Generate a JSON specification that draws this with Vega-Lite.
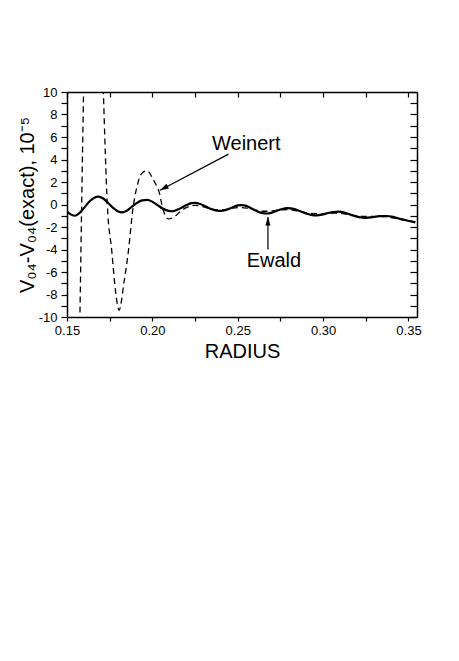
{
  "$schema": "https://vega.github.io/schema/vega-lite/v6.json",
  "autosize": "none",
  "width": 350,
  "height": 225,
  "padding": {"left": 67, "top": 92, "right": 42, "bottom": 344},
  "background": "white",
  "config": {
    "font": "Liberation Sans",
    "view": {"stroke": null},
    "axis": {
      "grid": false,
      "domainColor": "black",
      "domainWidth": 1.5,
      "tickColor": "black",
      "tickWidth": 1.2,
      "labelColor": "black",
      "labelFont": "Liberation Sans",
      "labelFontSize": 13,
      "titleColor": "black",
      "titleFont": "Liberation Sans",
      "titleFontSize": 20,
      "titleFontWeight": "normal",
      "labelOverlap": false,
      "labelFlush": false
    }
  },
  "datasets": {
    "weinert": [
      {"x": 0.1576, "y": -9.6}, {"x": 0.1586, "y": 0}, {"x": 0.1597, "y": 10}, {"x": 0.1610, "y": 20},
      {"x": 0.1650, "y": 35}, {"x": 0.1690, "y": 22}, {"x": 0.1713, "y": 10}, {"x": 0.1736, "y": 0},
      {"x": 0.1762, "y": -4.1}, {"x": 0.1785, "y": -7.8}, {"x": 0.1805, "y": -9.4}, {"x": 0.1835, "y": -6.8},
      {"x": 0.1860, "y": -4.1}, {"x": 0.1885, "y": -0.5}, {"x": 0.1910, "y": 1.6}, {"x": 0.1940, "y": 2.8},
      {"x": 0.1970, "y": 3.0}, {"x": 0.1995, "y": 2.5}, {"x": 0.2020, "y": 1.8}, {"x": 0.2040, "y": 1.1},
      {"x": 0.2060, "y": -0.3}, {"x": 0.2080, "y": -1.1}, {"x": 0.2095, "y": -1.28}, {"x": 0.2115, "y": -1.2},
      {"x": 0.2140, "y": -0.95}, {"x": 0.2165, "y": -0.6}, {"x": 0.2190, "y": -0.35}, {"x": 0.2220, "y": -0.15},
      {"x": 0.2250, "y": -0.08}, {"x": 0.2280, "y": -0.12}, {"x": 0.2310, "y": -0.25}, {"x": 0.2340, "y": -0.38},
      {"x": 0.2370, "y": -0.45}, {"x": 0.2405, "y": -0.47}, {"x": 0.2440, "y": -0.42}, {"x": 0.2470, "y": -0.33},
      {"x": 0.2500, "y": -0.28}, {"x": 0.2525, "y": -0.28}, {"x": 0.2560, "y": -0.35}, {"x": 0.2600, "y": -0.48},
      {"x": 0.2640, "y": -0.58}, {"x": 0.2670, "y": -0.60}, {"x": 0.2710, "y": -0.55}, {"x": 0.2750, "y": -0.47},
      {"x": 0.2790, "y": -0.45}, {"x": 0.2830, "y": -0.52}, {"x": 0.2870, "y": -0.65}, {"x": 0.2920, "y": -0.78},
      {"x": 0.2965, "y": -0.82}, {"x": 0.3010, "y": -0.80}, {"x": 0.3050, "y": -0.76}, {"x": 0.3090, "y": -0.77},
      {"x": 0.3130, "y": -0.85}, {"x": 0.3180, "y": -0.96}, {"x": 0.3230, "y": -1.05}, {"x": 0.3270, "y": -1.07},
      {"x": 0.3310, "y": -1.06}, {"x": 0.3350, "y": -1.07}, {"x": 0.3390, "y": -1.14}, {"x": 0.3440, "y": -1.27},
      {"x": 0.3490, "y": -1.40}, {"x": 0.3540, "y": -1.55}
    ],
    "ewald": [
      {"x": 0.1500, "y": -0.62}, {"x": 0.1525, "y": -0.90}, {"x": 0.1547, "y": -1.00}, {"x": 0.1570, "y": -0.80},
      {"x": 0.1600, "y": -0.30}, {"x": 0.1630, "y": 0.25}, {"x": 0.1660, "y": 0.60}, {"x": 0.1684, "y": 0.70},
      {"x": 0.1710, "y": 0.55}, {"x": 0.1740, "y": 0.15}, {"x": 0.1770, "y": -0.30}, {"x": 0.1800, "y": -0.62},
      {"x": 0.1823, "y": -0.70}, {"x": 0.1850, "y": -0.55}, {"x": 0.1880, "y": -0.20}, {"x": 0.1910, "y": 0.15},
      {"x": 0.1940, "y": 0.37}, {"x": 0.1970, "y": 0.42}, {"x": 0.2000, "y": 0.25}, {"x": 0.2030, "y": -0.05},
      {"x": 0.2060, "y": -0.35}, {"x": 0.2090, "y": -0.55}, {"x": 0.2115, "y": -0.60}, {"x": 0.2140, "y": -0.50},
      {"x": 0.2170, "y": -0.30}, {"x": 0.2200, "y": -0.05}, {"x": 0.2230, "y": 0.12}, {"x": 0.2250, "y": 0.14},
      {"x": 0.2280, "y": 0.05}, {"x": 0.2310, "y": -0.15}, {"x": 0.2340, "y": -0.38}, {"x": 0.2370, "y": -0.52},
      {"x": 0.2405, "y": -0.57}, {"x": 0.2440, "y": -0.45}, {"x": 0.2470, "y": -0.25}, {"x": 0.2500, "y": -0.08},
      {"x": 0.2525, "y": -0.05}, {"x": 0.2550, "y": -0.12}, {"x": 0.2580, "y": -0.35}, {"x": 0.2610, "y": -0.58},
      {"x": 0.2640, "y": -0.75}, {"x": 0.2670, "y": -0.80}, {"x": 0.2700, "y": -0.72}, {"x": 0.2730, "y": -0.55},
      {"x": 0.2760, "y": -0.40}, {"x": 0.2790, "y": -0.33}, {"x": 0.2810, "y": -0.34}, {"x": 0.2840, "y": -0.45},
      {"x": 0.2870, "y": -0.62}, {"x": 0.2900, "y": -0.80}, {"x": 0.2930, "y": -0.92}, {"x": 0.2965, "y": -0.97},
      {"x": 0.3000, "y": -0.88}, {"x": 0.3030, "y": -0.76}, {"x": 0.3060, "y": -0.67}, {"x": 0.3090, "y": -0.64},
      {"x": 0.3120, "y": -0.70}, {"x": 0.3150, "y": -0.85}, {"x": 0.3180, "y": -1.00}, {"x": 0.3210, "y": -1.12},
      {"x": 0.3250, "y": -1.18}, {"x": 0.3290, "y": -1.12}, {"x": 0.3330, "y": -1.04}, {"x": 0.3370, "y": -1.02},
      {"x": 0.3410, "y": -1.10}, {"x": 0.3450, "y": -1.28}, {"x": 0.3490, "y": -1.42}, {"x": 0.3540, "y": -1.60}
    ],
    "arrows": [
      {"name": "Weinert", "x": 0.2446, "y": 4.48, "x2": 0.2045, "y2": 1.27},
      {"name": "Ewald", "x": 0.2677, "y": -4.0, "x2": 0.2677, "y2": -1.1}
    ],
    "labels": [
      {"text": "Weinert", "x": 0.255, "y": 4.83},
      {"text": "Ewald", "x": 0.2712, "y": -5.57}
    ]
  },
  "resolve": {"axis": {"x": "independent", "y": "independent"}},
  "layer": [
    {
      "data": {"name": "weinert"},
      "mark": {"type": "line", "clip": true, "color": "black", "strokeWidth": 1.3, "strokeDash": [6, 4], "interpolate": "monotone"},
      "encoding": {
        "x": {"field": "x", "type": "quantitative",
          "scale": {"domain": [0.15, 0.355], "nice": false, "zero": false},
          "axis": {"orient": "bottom", "values": [0.15, 0.175, 0.2, 0.225, 0.25, 0.275, 0.3, 0.325, 0.35],
            "labelExpr": "abs(datum.value * 20 - round(datum.value * 20)) < 0.001 ? format(datum.value, '.2f') : ''",
            "title": "RADIUS", "tickSize": 4, "labelPadding": 3,
            "titleX": 175, "titleY": 40, "titleBaseline": "alphabetic", "titleAlign": "center"}},
        "y": {"field": "y", "type": "quantitative",
          "scale": {"domain": [-10, 10], "nice": false, "zero": false},
          "axis": {"orient": "left", "values": [-10, -9, -8, -7, -6, -5, -4, -3, -2, -1, 0, 1, 2, 3, 4, 5, 6, 7, 8, 9, 10],
            "labelExpr": "datum.value % 2 == 0 ? '' + datum.value : ''",
            "title": "V₀₄-V₀₄(exact), 10⁻⁵", "tickSize": 6, "labelPadding": 4,
            "titleX": -34, "titleY": 112.5, "titleAngle": -90, "titleBaseline": "alphabetic", "titleAlign": "center"}}
      }
    },
    {
      "data": {"name": "ewald"},
      "mark": {"type": "line", "clip": true, "color": "black", "strokeWidth": 2.2, "interpolate": "monotone"},
      "encoding": {
        "x": {"field": "x", "type": "quantitative",
          "axis": {"orient": "top", "values": [0.15, 0.175, 0.2, 0.225, 0.25, 0.275, 0.3, 0.325, 0.35],
            "labels": false, "title": null, "tickSize": -5}},
        "y": {"field": "y", "type": "quantitative",
          "axis": {"orient": "right", "values": [-10, -9, -8, -7, -6, -5, -4, -3, -2, -1, 0, 1, 2, 3, 4, 5, 6, 7, 8, 9, 10],
            "labels": false, "title": null, "tickSize": -7}}
      }
    },
    {
      "data": {"name": "arrows"},
      "mark": {"type": "rule", "color": "black", "strokeWidth": 1.2},
      "encoding": {
        "x": {"field": "x", "type": "quantitative", "axis": null},
        "y": {"field": "y", "type": "quantitative", "axis": null},
        "x2": {"field": "x2"},
        "y2": {"field": "y2"}
      }
    },
    {
      "data": {"name": "arrows"},
      "transform": [{"filter": "datum.name == 'Weinert'"}],
      "mark": {"type": "point", "filled": true, "color": "black", "opacity": 1, "shape": "M0,0L-0.3,1L0.3,1Z", "size": 300, "angle": 242},
      "encoding": {
        "x": {"field": "x2", "type": "quantitative", "axis": null},
        "y": {"field": "y2", "type": "quantitative", "axis": null}
      }
    },
    {
      "data": {"name": "arrows"},
      "transform": [{"filter": "datum.name == 'Ewald'"}],
      "mark": {"type": "point", "filled": true, "color": "black", "opacity": 1, "shape": "M0,0L-0.3,1L0.3,1Z", "size": 300, "angle": 0},
      "encoding": {
        "x": {"field": "x2", "type": "quantitative", "axis": null},
        "y": {"field": "y2", "type": "quantitative", "axis": null}
      }
    },
    {
      "data": {"name": "labels"},
      "mark": {"type": "text", "color": "black", "fontSize": 20, "align": "center", "baseline": "alphabetic", "font": "Liberation Sans"},
      "encoding": {
        "x": {"field": "x", "type": "quantitative", "axis": null},
        "y": {"field": "y", "type": "quantitative", "axis": null},
        "text": {"field": "text"}
      }
    }
  ]
}
